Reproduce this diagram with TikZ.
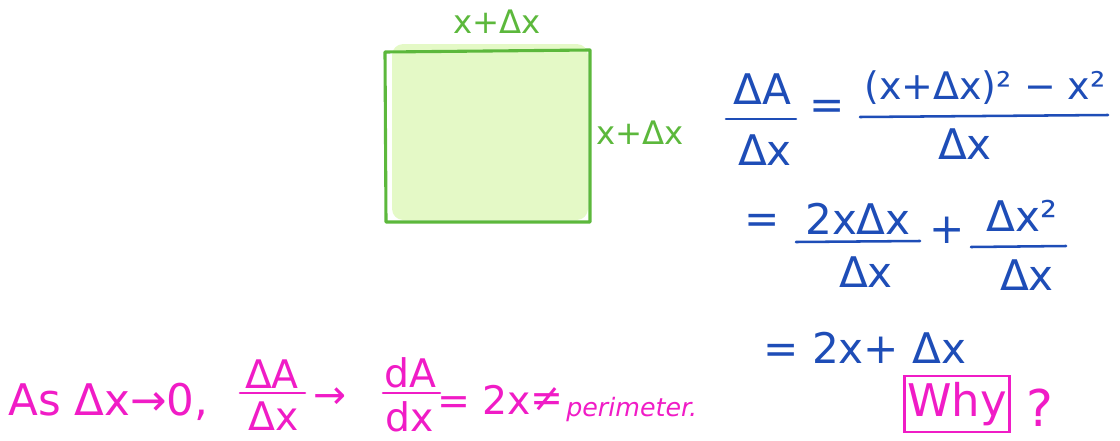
\documentclass[tikz,border=0pt]{standalone}
\usepackage{fontspec}
\setmainfont{DejaVu Sans}
\usetikzlibrary{positioning}
\definecolor{azul}{HTML}{1E4DB7}
\definecolor{verde}{HTML}{5CB83C}
\definecolor{verdeclaro}{HTML}{E4F9C6}
\definecolor{rosa}{HTML}{F01CC6}

\begin{document}
\begin{tikzpicture}[x=0.025cm, y=-0.025cm, inner sep=0pt,
    verdetxt/.style={text=verde, font=\fontsize{23}{23}\selectfont},
    azultxt/.style={text=azul, font=\fontsize{30}{30}\selectfont},
    rosatxt/.style={text=rosa, font=\fontsize{28}{28}\selectfont},
    barra/.style={line width=1.8pt, line cap=round}]
        \useasboundingbox (0,0) rectangle (1120,441);
        % square
        \fill[verdeclaro, rounded corners=8pt] (392,44) rectangle (588,220);
        \draw[verde, line width=2.2pt, line join=round] (385,52) -- (590,50) -- (590,222) -- (386,222) -- cycle;
        \node[verdetxt] (lado) at (497,22) {x+Δx};
        \node[verdetxt] (alto) at (640,133) {x+Δx};
        % first line
        \node[azultxt] (numA) at (762,89) {ΔA};
        \node[azultxt] (denA) at (765,150) {Δx};
        \draw[azul, barra] (726,119) -- (796,119);
        \node[azultxt] (igual1) at (827,110) {=};
        \node[azultxt, font=\fontsize{27}{27}\selectfont] (numB) at (985,88) {(x+Δx)² − x²};
        \node[azultxt] (denB) at (965,144) {Δx};
        \draw[azul, barra] (860,117) -- (1108,115);
        % second line
        \node[azultxt] (igual2) at (762,224) {=};
        \node[azultxt] (numC) at (858,219) {2xΔx};
        \node[azultxt] (denC) at (866,272) {Δx};
        \draw[azul, barra] (796,242) -- (920,241);
        \node[azultxt] (mas) at (947,230) {+};
        \node[azultxt] (numD) at (1022,216) {Δx²};
        \node[azultxt] (denD) at (1027,275) {Δx};
        \draw[azul, barra] (971,247) -- (1066,246);
        % third line
        \node[azultxt] (igual3) at (865,348) {= 2x+ Δx};
        % bottom line
        \node[rosatxt, font=\fontsize{31}{31}\selectfont, anchor=west] (limite) at (8,402) {As Δx→0,};
        \node[rosatxt] (numE) at (272,374) {ΔA};
        \node[rosatxt] (denE) at (274,416) {Δx};
        \draw[rosa, barra] (240,393) -- (305,393);
        \node[rosatxt] (flecha) at (330,398) {→};
        \node[rosatxt] (numF) at (410,373) {dA};
        \node[rosatxt] (denF) at (410,417) {dx};
        \draw[rosa, barra] (383,393) -- (440,393);
        \node[rosatxt] (igual4) at (484,400) {= 2x};
        \node[rosatxt] (distinto) at (547,400) {≠};
        \node[rosatxt, font=\fontsize{18}{18}\selectfont\itshape, anchor=west] (perimetro) at (566,410) {perimeter.};
        \node[rosatxt, font=\fontsize{32}{32}\selectfont, draw=rosa, line width=1.8pt, minimum width=105*0.025cm, minimum height=56*0.025cm] (porque) at (957,404) {Why};
        \node[rosatxt, font=\fontsize{36}{36}\selectfont] (pregunta) at (1040,408) {?};
      \end{tikzpicture}
\end{document}
